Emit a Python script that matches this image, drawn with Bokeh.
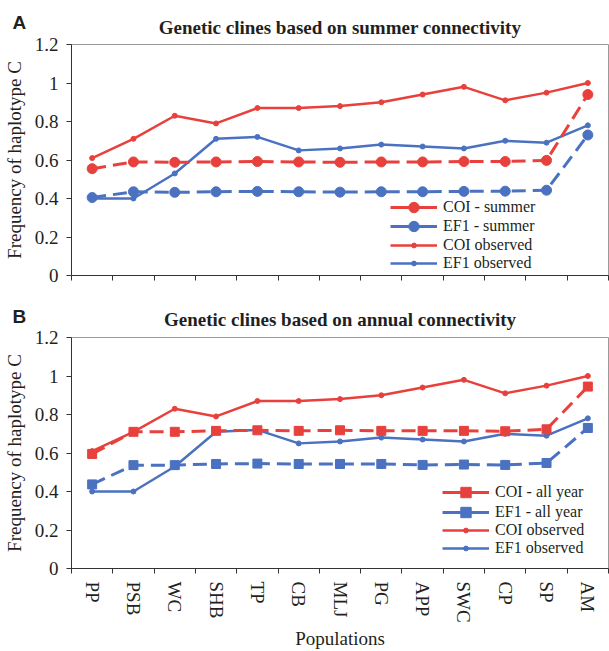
from bokeh.plotting import figure
from bokeh.layouts import column
from bokeh.models import (Range1d, FixedTicker, Legend, LegendItem, Title)
from bokeh.embed import file_html
from bokeh.resources import INLINE

populations = ["PP", "PSB", "WC", "SHB", "TP", "CB", "MLJ", "PG", "APP", "SWC", "CP", "SP", "AM"]

coi_observed = [0.61, 0.71, 0.83, 0.79, 0.87, 0.87, 0.88, 0.90, 0.94, 0.98, 0.91, 0.95, 1.00]
ef1_observed = [0.40, 0.40, 0.53, 0.71, 0.72, 0.65, 0.66, 0.68, 0.67, 0.66, 0.70, 0.69, 0.78]

coi_summer = [0.555, 0.590, 0.588, 0.590, 0.592, 0.590, 0.588, 0.590, 0.590, 0.592, 0.592, 0.598, 0.940]
ef1_summer = [0.405, 0.435, 0.432, 0.435, 0.437, 0.435, 0.433, 0.435, 0.435, 0.437, 0.438, 0.443, 0.730]

coi_allyear = [0.595, 0.710, 0.710, 0.715, 0.718, 0.715, 0.718, 0.715, 0.715, 0.715, 0.713, 0.723, 0.945]
ef1_allyear = [0.437, 0.537, 0.537, 0.543, 0.545, 0.543, 0.543, 0.543, 0.538, 0.540, 0.538, 0.548, 0.730]

y_ticks = [0, 0.2, 0.4, 0.6, 0.8, 1.0, 1.2]
y_tick_labels = ["0", "0.2", "0.4", "0.6", "0.8", "1", "1.2"]

RED = "#E8413D"
BLUE = "#4A72C1"
SERIF = "Liberation Serif"
TXT = "#231F20"

xs = [i + 0.5 for i in range(len(populations))]
bounds = list(range(len(populations) + 1))


def make_panel(letter, title, model_coi, model_ef1, marker, msize, leg_names,
               height, top, bottom, show_labels, title_standoff, letter_standoff,
               leg_ys, leg_x):
    p = figure(width=609, height=height, output_backend="svg", toolbar_location=None,
               x_range=Range1d(0, len(populations)), y_range=Range1d(0, 1.2),
               min_border_left=71, min_border_right=1, min_border_top=top,
               min_border_bottom=bottom)
    p.grid.visible = False
    p.outline_line_color = "#9a9a9a"
    p.outline_line_width = 1
    p.background_fill_color = "white"
    p.border_fill_color = "white"

    t = Title(text=title, align="center", text_font=SERIF, text_font_size="19px",
              text_font_style="bold", text_color=TXT, standoff=title_standoff)
    p.add_layout(t, "above")
    lt = Title(text=letter, align="left", offset=12 - 71, text_font="Liberation Sans",
               text_font_size="19px", text_font_style="bold", text_color=TXT,
               standoff=letter_standoff)
    p.add_layout(lt, "above")

    # y axis
    ya = p.yaxis[0]
    ya.ticker = FixedTicker(ticks=y_ticks)
    ya.major_label_overrides = {v: s for v, s in zip(y_ticks, y_tick_labels)}
    ya.major_label_text_font = SERIF
    ya.major_label_text_font_size = "19px"
    ya.major_label_text_color = TXT
    ya.major_label_standoff = 8
    ya.major_tick_out = 5
    ya.major_tick_in = 0
    ya.minor_tick_out = 0
    ya.minor_tick_in = 0
    ya.axis_line_color = "#333333"
    ya.major_tick_line_color = "#333333"
    ya.axis_label = "Frequency of haplotype C"
    ya.axis_label_text_font = SERIF
    ya.axis_label_text_font_size = "19px"
    ya.axis_label_text_font_style = "normal"
    ya.axis_label_text_color = TXT
    ya.axis_label_standoff = 7

    # x axis
    xa = p.xaxis[0]
    xa.major_tick_out = 0
    xa.major_tick_in = 0
    xa.minor_tick_out = 5
    xa.minor_tick_in = 0
    xa.axis_line_color = "#333333"
    xa.minor_tick_line_color = "#333333"
    if show_labels:
        xa.ticker = FixedTicker(ticks=xs, minor_ticks=bounds)
        xa.major_label_overrides = {v: s for v, s in zip(xs, populations)}
        xa.major_label_orientation = "vertical"
        xa.major_label_text_font = SERIF
        xa.major_label_text_font_size = "19px"
        xa.major_label_text_color = TXT
        xa.major_label_standoff = 8
        xa.axis_label = "Populations"
        xa.axis_label_text_font = SERIF
        xa.axis_label_text_font_size = "19px"
        xa.axis_label_text_font_style = "normal"
        xa.axis_label_text_color = TXT
        xa.axis_label_standoff = 2
    else:
        xa.ticker = FixedTicker(ticks=[], minor_ticks=bounds)
        xa.major_label_standoff = 0

    # observed lines
    p.line(xs, coi_observed, line_color=RED, line_width=2.5)
    p.scatter(xs, coi_observed, marker="circle", size=5, color=RED)
    p.line(xs, ef1_observed, line_color=BLUE, line_width=2.5)
    p.scatter(xs, ef1_observed, marker="circle", size=5, color=BLUE)

    # model lines
    p.line(xs, model_coi, line_color=RED, line_width=3, line_dash="14 7")
    p.scatter(xs, model_coi, marker=marker, size=msize, color=RED)
    p.line(xs, model_ef1, line_color=BLUE, line_width=3, line_dash="14 7")
    p.scatter(xs, model_ef1, marker=marker, size=msize, color=BLUE)

    # legend proxies (solid lines), placed outside the visible range
    def proxy(color, mk, lw):
        l = p.line([-50, -49], [-50, -50], line_color=color, line_width=lw)
        s = p.scatter([-50], [-50], marker=mk, color=color)
        return [l, s]

    common = dict(glyph_width=47, label_standoff=6, padding=0, margin=0, spacing=0,
                  label_text_font=SERIF, label_text_font_size="16px",
                  label_text_color=TXT, border_line_alpha=0, background_fill_alpha=0)
    specs = [
        (leg_names[0], RED, marker, 3, 26),
        (leg_names[1], BLUE, marker, 3, 26),
        (leg_names[2], RED, "circle", 2.5, 12),
        (leg_names[3], BLUE, "circle", 2.5, 12),
    ]
    for (name, color, mk, lw, gh), ly in zip(specs, leg_ys):
        leg = Legend(items=[LegendItem(label=name, renderers=proxy(color, mk, lw))],
                     location=(leg_x, ly), glyph_height=gh, label_height=gh, **common)
        p.add_layout(leg)
    return p


p1 = make_panel("A", "Genetic clines based on summer connectivity", coi_summer, ef1_summer,
                "circle", 10, ["COI - summer", "EF1 - summer", "COI observed", "EF1 observed"],
                298, 44, 23, False, 14, -50, [55, 36, 21.5, 3.5], 319)
p2 = make_panel("B", "Genetic clines based on annual connectivity", coi_allyear, ef1_allyear,
                "square", 9, ["COI - all year", "EF1 - all year", "COI observed", "EF1 observed"],
                353, 38, 82, True, 16, -56, [63, 43, 29.5, 11.5], 371)

p = column(p1, p2)
open("out.html", "w").write(file_html(p, INLINE))
